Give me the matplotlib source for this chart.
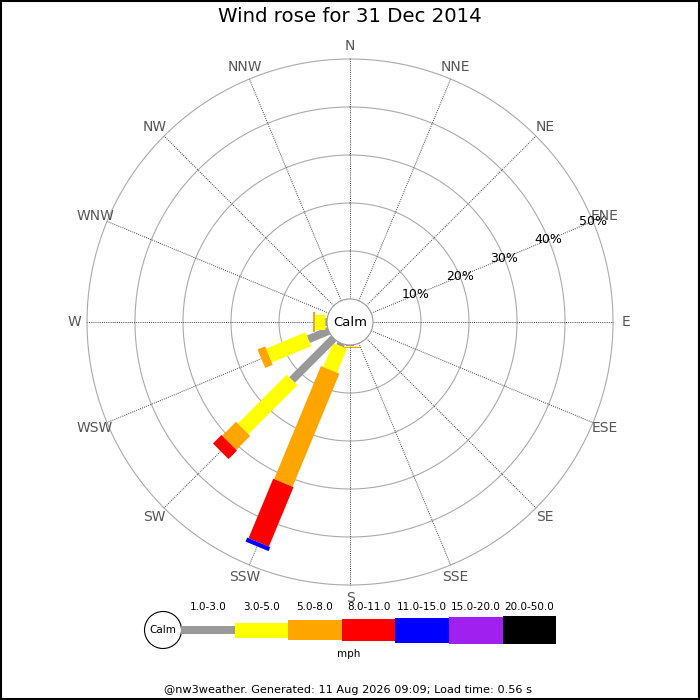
import numpy as np
import matplotlib
matplotlib.use("Agg")
import matplotlib.pyplot as plt
from matplotlib.patches import Circle, Rectangle

directions = ["N", "NNE", "NE", "ENE", "E", "ESE", "SE", "SSE",
              "S", "SSW", "SW", "WSW", "W", "WNW", "NW", "NNW"]
speed_bins = ["1.0-3.0", "3.0-5.0", "5.0-8.0", "8.0-11.0",
              "11.0-15.0", "15.0-20.0", "20.0-50.0"]
bin_colors = ["#999999", "#ffff00", "#ffa500", "#ff0000",
              "#0000ff", "#a020f0", "#000000"]

# percent of time per direction, one value per speed bin
freq_S = [0.2, 0.2, 0.2]
freq_SSW = [0.6, 5.4, 25.5, 13.4, 0.9]
freq_SW = [12.3, 14.4, 4.1, 2.5]
freq_WSW = [4.6, 8.9, 1.7]
freq_W = [0.4, 2.1, 0.4]
freqs = {"S": freq_S, "SSW": freq_SSW, "SW": freq_SW, "WSW": freq_WSW, "W": freq_W}

ring_pcts = [10, 20, 30, 40, 50]

title = "Wind rose for 31 Dec 2014"
footer = "@nw3weather. Generated: 11 Aug 2026 09:09; Load time: 0.56 s"

PX = 4.8          # pixels per percent
OFF = 23 / PX     # calm circle radius in percent units
bar_px = [8, 15, 20, 22, 25, 27, 28]

fig = plt.figure(figsize=(7, 7), dpi=100)
ax = fig.add_axes([0, 0, 1, 1])
ax.set_xlim(-350 / PX, 350 / PX)
ax.set_ylim(-378 / PX, 322 / PX)
ax.axis("off")

angles = np.deg2rad(np.arange(16) * 22.5)
rmax = OFF + ring_pcts[-1]

# rings
t = np.linspace(0, 2 * np.pi, 400)
for p in ring_pcts:
    ax.plot((OFF + p) * np.sin(t), (OFF + p) * np.cos(t), color="#aaaaaa", lw=0.8, zorder=1)

# spokes and direction labels
for a, d in zip(angles, directions):
    ax.plot([OFF * np.sin(a), rmax * np.sin(a)], [OFF * np.cos(a), rmax * np.cos(a)],
            color="#444444", lw=0.7, ls=(0, (1, 1.2)), zorder=1)
    rl = 276 / PX
    ax.text(rl * np.sin(a), rl * np.cos(a), d, color="#555555", fontsize=10,
            ha="center", va="center", zorder=5)

# percent labels along ENE
a_lab = np.deg2rad(67.5)
for p in ring_pcts:
    ax.text((OFF + p) * np.sin(a_lab), (OFF + p) * np.cos(a_lab), f"{p}%",
            fontsize=9, ha="center", va="center", zorder=5)

# bars
for d, vals in freqs.items():
    a = angles[directions.index(d)]
    start = 0.0
    for i, v in enumerate(vals):
        r0, r1 = OFF + start, OFF + start + v
        ax.plot([r0 * np.sin(a), r1 * np.sin(a)], [r0 * np.cos(a), r1 * np.cos(a)],
                color=bin_colors[i], lw=bar_px[i] * 0.72, solid_capstyle="butt", zorder=3)
        start += v

ax.add_patch(Circle((0, 0), OFF, facecolor="white", edgecolor="#999999", lw=0.8, zorder=4))
ax.text(0, 0, "Calm", fontsize=9.5, ha="center", va="center", zorder=5)

# title, legend, footer in pixel coords
lax = fig.add_axes([0, 0, 1, 1], facecolor="none")
lax.set_xlim(0, 700)
lax.set_ylim(700, 0)
lax.axis("off")

lax.text(350, 17, title, fontsize=14.2, ha="center", va="center")

lax.add_patch(Circle((163, 630), 18.5, facecolor="white", edgecolor="black", lw=0.8))
lax.text(163, 630, "Calm", fontsize=7.5, ha="center", va="center")
seg_w = 53.6
for i, (lab, c) in enumerate(zip(speed_bins, bin_colors)):
    x0 = 181 + i * seg_w
    h = bar_px[i]
    lax.add_patch(Rectangle((x0, 630 - h / 2), seg_w, h, facecolor=c, edgecolor="none"))
    lax.text(x0 + seg_w / 2, 607, lab, fontsize=7.5, ha="center", va="center")
lax.text(349, 654, "mph", fontsize=7.5, ha="center", va="center")

lax.text(348, 690, footer, fontsize=8.1, ha="center", va="center")

lax.add_patch(Rectangle((1, 1), 698, 698, facecolor="none", edgecolor="black", lw=1.5))

fig.savefig("out.png", dpi=100)
